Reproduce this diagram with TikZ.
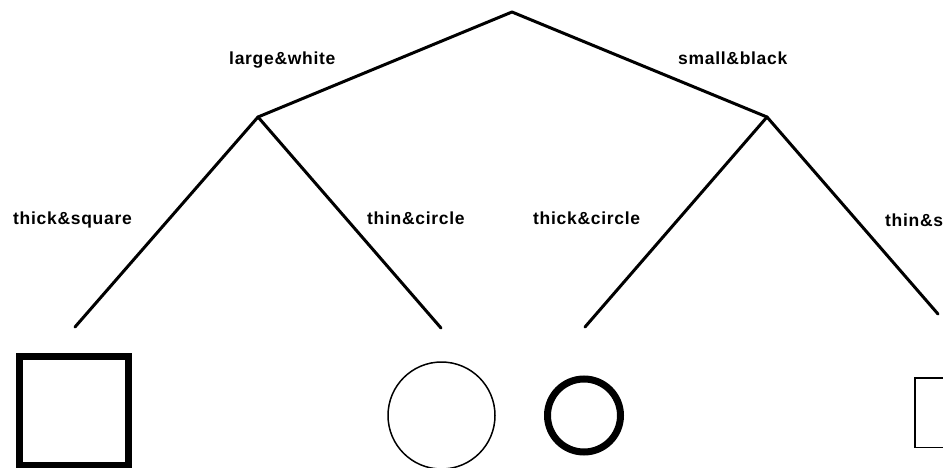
\documentclass[tikz,border=0pt]{standalone}
\usepackage{fontspec}
\newfontfamily\labfont[LetterSpace=4]{Liberation Sans Bold}
\begin{document}
\begin{tikzpicture}[x=1pt,y=-1pt,
  edge/.style={line width=3pt, line cap=round, line join=round},
  lab/.style={inner sep=0pt, anchor=base west, font=\labfont\fontsize{17.5}{20}\selectfont},
  thicksq/.style={draw, rectangle, line width=7pt, minimum size=109pt, inner sep=0pt},
  thinsq/.style={draw, rectangle, line width=1.5pt, minimum size=69.5pt, inner sep=0pt},
  thickcirc/.style={draw, circle, line width=7pt, minimum size=73pt, inner sep=0pt},
  thincirc/.style={draw, circle, line width=1.5pt, minimum size=107pt, inner sep=0pt}]
\useasboundingbox (0,0) rectangle (943,468);
\clip (0,0) rectangle (943,468);
\coordinate (root) at (512,12);
\coordinate (L) at (258,117);
\coordinate (R) at (767,117);
\coordinate (LL) at (75,327);
\coordinate (LR) at (441,328);
\coordinate (RL) at (585,327);
\coordinate (RR) at (938,314);
\draw[edge] (LL) -- (L) -- (root) -- (R) -- (RR);
\draw[edge] (L) -- (LR);
\draw[edge] (R) -- (RL);
\node[lab] (lw) at (229,65) {large\&white};
\node[lab] (sb) at (678,65) {small\&black};
\node[lab] (tsq) at (13,224) {thick\&square};
\node[lab] (tnc) at (367,225) {thin\&circle};
\node[lab] (tkc) at (533,225) {thick\&circle};
\node[lab] (tns) at (885,226) {thin\&square};
\node[thicksq] (s1) at (74,410.5) {};
\node[thincirc] (c1) at (441.5,415.5) {};
\node[thickcirc] (c2) at (584,415.5) {};
\node[thinsq] (s2) at (949.5,412.5) {};
\end{tikzpicture}
\end{document}
